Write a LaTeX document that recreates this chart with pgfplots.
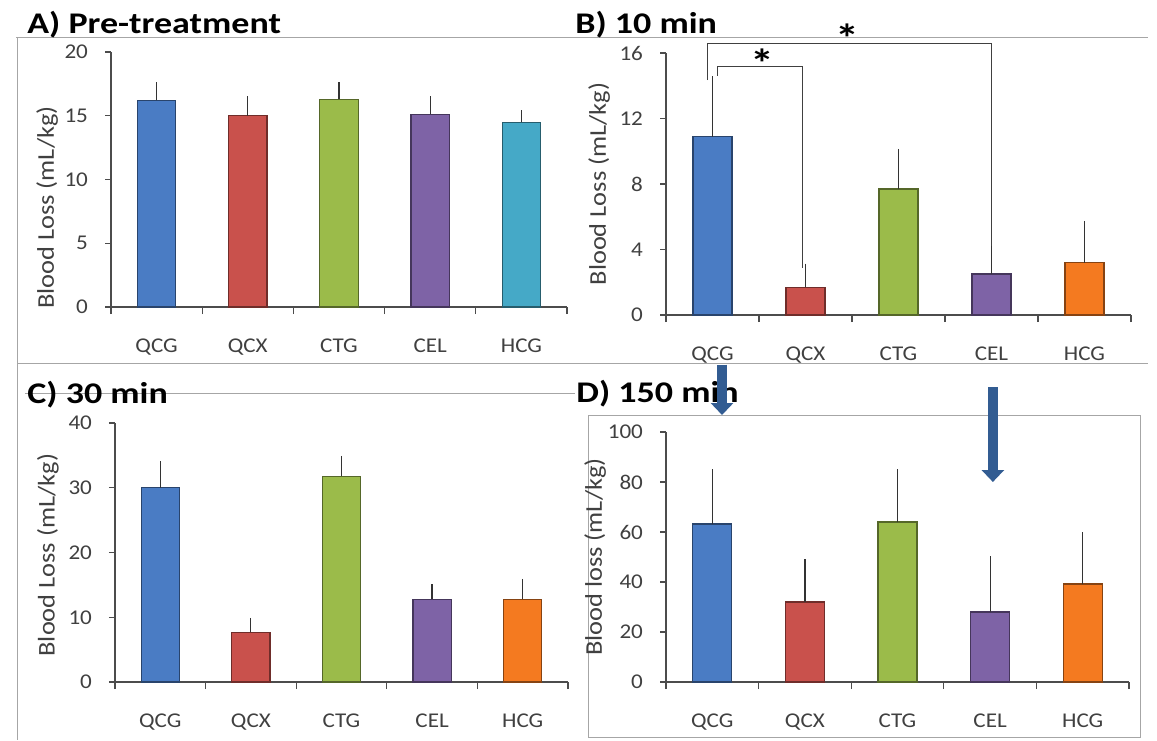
\documentclass[border=0pt]{standalone}
\usepackage{pgfplots}
\pgfplotsset{compat=1.18}
\usepackage{fontspec}
\setmainfont{Carlito}[FakeStretch=1.1]
\newfontfamily\titlefont{Carlito}[FakeStretch=1.2]
\usetikzlibrary{arrows.meta}
\definecolor{cBlue}{HTML}{4A7CC4}
\definecolor{cRed}{HTML}{C9514C}
\definecolor{cGreen}{HTML}{9BBB4A}
\definecolor{cPurple}{HTML}{7E63A6}
\definecolor{cCyan}{HTML}{45A9C7}
\definecolor{cOrange}{HTML}{F47A20}
\definecolor{arrowblue}{HTML}{325C92}
\definecolor{txt}{HTML}{404040}
\pgfplotsset{
  panel/.style={
    scale only axis, anchor=south west, ybar,
    xmin=-0.5, xmax=4.5, ymin=0,
    axis x line=bottom, axis y line=left,
    axis line style={-, black!70, line width=0.6pt},
    xtick={0,...,4}, xticklabels={QCG,QCX,CTG,CEL,HCG},
    minor xtick={-0.5,0.5,...,4.5},
    major x tick style={draw=none},
    minor x tick style={black!70, line width=0.6pt},
    y tick style={black!70, line width=0.6pt},
    tick align=outside, major tick length=3pt, minor tick length=3.5pt,
    tick label style={font=\fontsize{10.5}{12}\selectfont, text=txt},
    xticklabel style={yshift=-9.5pt},
    yticklabel style={xshift=-5pt},
    /pgf/number format/assume math mode=true,
    label style={font=\fontsize{12}{14}\selectfont, text=txt},
    bar width=0.42,
    clip=false,
    error bars/y dir=plus, error bars/y explicit,
    error bars/error mark options={black!80, mark size=2pt, line width=0.6pt},
    error bars/error bar style={black!80, line width=0.6pt},
  },
  bb/.style={bar shift=0pt, fill=#1, draw=#1!55!black, line width=0.6pt},
}
\begin{document}
\begin{tikzpicture}
\path[use as bounding box] (0,0) rectangle (578.5pt,-370pt);
% panel frames
\begin{scope}[draw=black!35, line width=0.5pt]
\draw (8pt,-18.5pt) -- (574pt,-18.5pt);
\draw (8.5pt,-18.5pt) -- (8.5pt,-181.5pt) -- (574pt,-181.5pt);
\draw (12.5pt,-196.5pt) -- (287.5pt,-196.5pt);
\draw (8.5pt,-181.5pt) -- (8.5pt,-370pt);
\draw (294pt,-207.5pt) rectangle (570pt,-368.5pt);
\end{scope}
% titles
\begin{scope}[every node/.style={anchor=base west, inner sep=0pt, font=\titlefont\bfseries\fontsize{15}{17}\selectfont}]
\node at (13.5pt,-16.5pt) {A) Pre-treatment};
\node at (287.5pt,-16.5pt) {B) 10 min};
\node at (13.5pt,-201.5pt) {C) 30 min};
\node at (288pt,-201pt) {D) 150 min};
\end{scope}

% A
\begin{axis}[panel, at={(55.5pt,-153.5pt)}, width=228pt, height=127.5pt,
  ymax=20, ytick={0,5,...,20},
  ylabel={Blood Loss (mL/kg)},
  ylabel style={at={(axis description cs:-0.14,0.39)}, anchor=center}]
\addplot[bb=cBlue]   coordinates {(0,16.2) +- (0,1.1)};
\addplot[bb=cRed]    coordinates {(1,15.0) +- (0,1.2)};
\addplot[bb=cGreen]  coordinates {(2,16.3) +- (0,1.0)};
\addplot[bb=cPurple] coordinates {(3,15.1) +- (0,1.1)};
\addplot[bb=cCyan]   coordinates {(4,14.5) +- (0,0.6)};
\end{axis}

% B
\begin{axis}[panel, at={(333pt,-157.5pt)}, width=232.5pt, height=131pt,
  ymax=16, ytick={0,4,...,16},
  ylabel={Blood Loss (mL/kg)},
  ylabel style={at={(axis description cs:-0.144,0.5)}, anchor=center}]
\addplot[bb=cBlue]   coordinates {(0,10.9) +- (0,3.45)};
\addplot[bb=cRed]    coordinates {(1,1.7) +- (0,1.2)};
\addplot[bb=cGreen]  coordinates {(2,7.7) +- (0,2.2)};
\addplot[bb=cPurple] coordinates {(3,2.5) +- (0,1.7)};
\addplot[bb=cOrange] coordinates {(4,3.2) +- (0,2.3)};
\draw[black!75, line width=0.6pt] (axis cs:-0.05,14.35) |- (axis cs:3,16.6) -- (axis cs:3,4.2);
\draw[black!75, line width=0.6pt] (axis cs:0.05,14.6) |- (axis cs:0.97,15.2) -- (axis cs:0.97,2.9);
\node[font=\titlefont\bfseries\fontsize{20}{20}\selectfont] at (axis cs:1.45,16.9) {*};
\node[font=\titlefont\bfseries\fontsize{20}{20}\selectfont] at (axis cs:0.54,15.4) {*};
\end{axis}

% C
\begin{axis}[panel, at={(57.5pt,-341pt)}, width=226.5pt, height=129.5pt,
  ymax=40, ytick={0,10,...,40},
  ylabel={Blood Loss (mL/kg)},
  ylabel style={at={(axis description cs:-0.148,0.49)}, anchor=center}]
\addplot[bb=cBlue]   coordinates {(0,30.0) +- (0,3.5)};
\addplot[bb=cRed]    coordinates {(1,7.7) +- (0,1.6)};
\addplot[bb=cGreen]  coordinates {(2,31.8) +- (0,2.5)};
\addplot[bb=cPurple] coordinates {(3,12.8) +- (0,1.7)};
\addplot[bb=cOrange] coordinates {(4,12.8) +- (0,2.5)};
\end{axis}

% D
\begin{axis}[panel, at={(333pt,-341pt)}, width=231.5pt, height=125pt,
  ymax=100, ytick={0,20,...,100},
  ylabel={Blood loss (mL/kg)},
  ylabel style={at={(axis description cs:-0.153,0.5)}, anchor=center}]
\addplot[bb=cBlue]   coordinates {(0,63.2) +- (0,20.4)};
\addplot[bb=cRed]    coordinates {(1,32.0) +- (0,15.6)};
\addplot[bb=cGreen]  coordinates {(2,64.0) +- (0,19.6)};
\addplot[bb=cPurple] coordinates {(3,28.0) +- (0,20.8)};
\addplot[bb=cOrange] coordinates {(4,39.2) +- (0,19.2)};
\draw[arrowblue, line width=5pt, -{Triangle[width=11pt,length=6pt]}] (axis cs:0.105,127) -- (axis cs:0.105,106.8);
\draw[arrowblue, line width=5pt, -{Triangle[width=11pt,length=6pt]}] (axis cs:3.03,118) -- (axis cs:3.03,80);
\end{axis}
\end{tikzpicture}
\end{document}
